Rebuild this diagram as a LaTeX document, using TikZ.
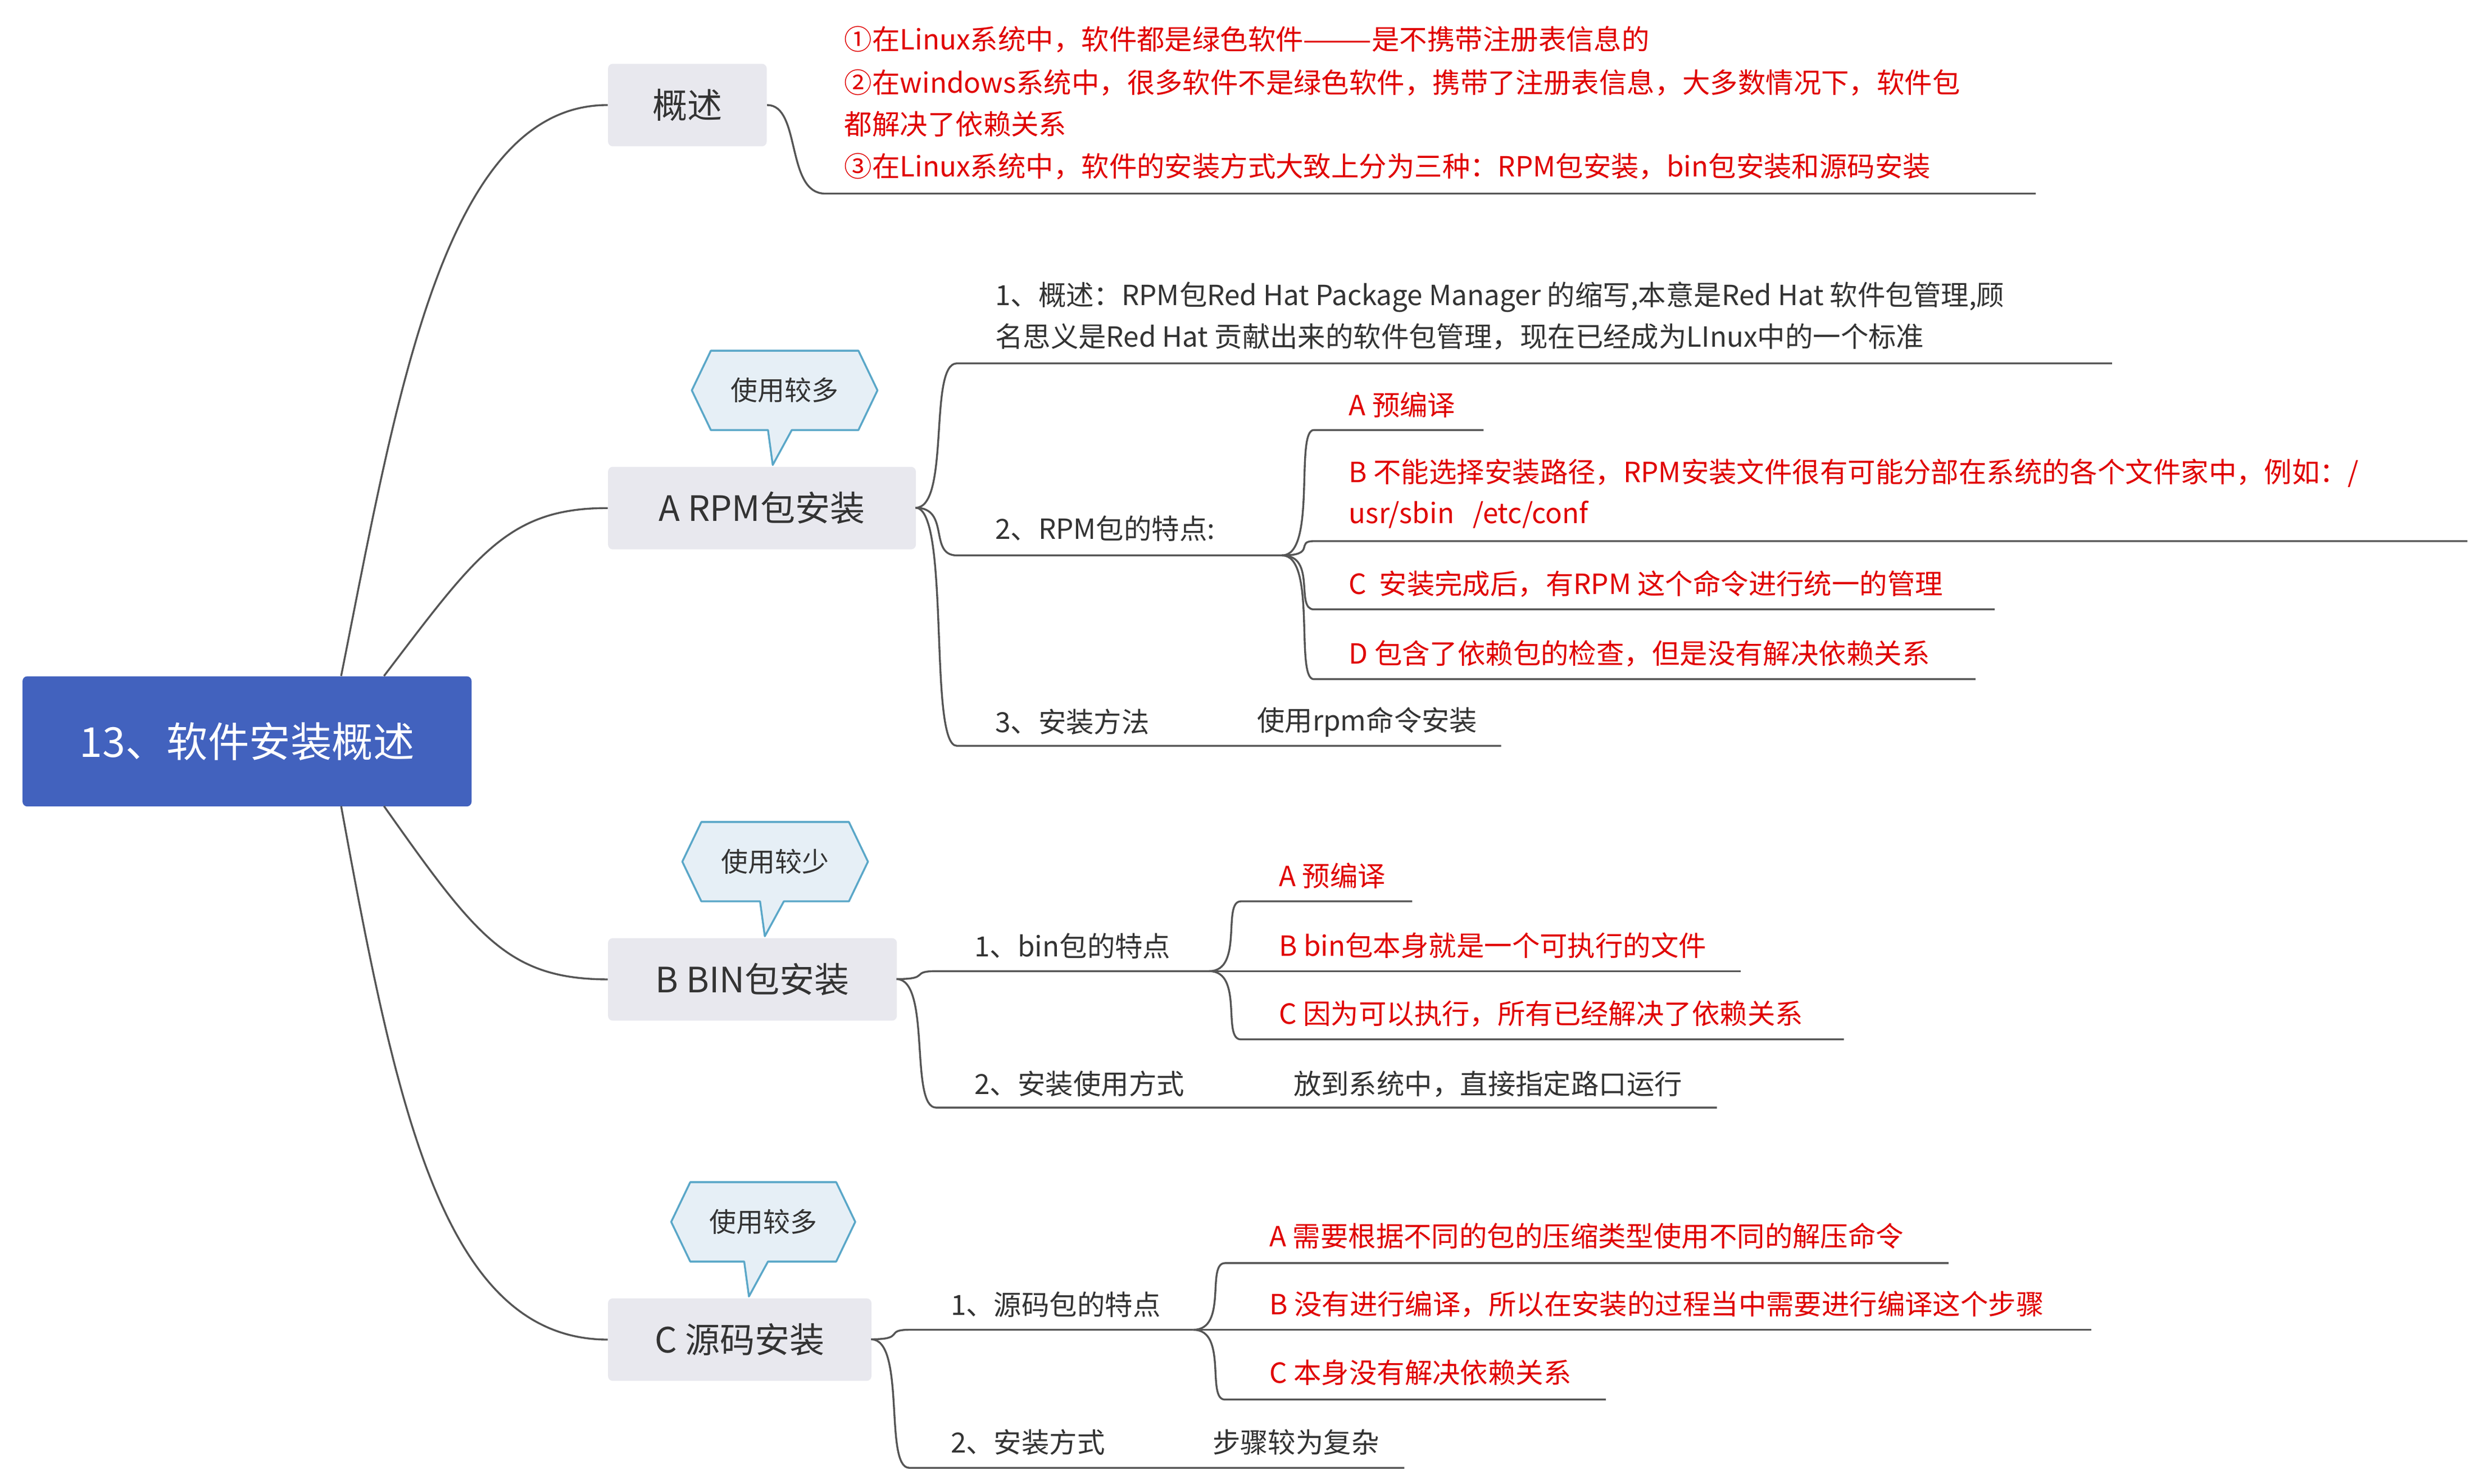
\documentclass[tikz,border=0pt]{standalone}
\usepackage{fontspec}
\setmainfont{Noto Sans CJK SC}
\usetikzlibrary{calc}
\definecolor{rootblue}{HTML}{4262BE}
\definecolor{boxgray}{HTML}{E8E8EE}
\definecolor{lin}{HTML}{555555}
\definecolor{redt}{HTML}{E00000}
\definecolor{txt}{HTML}{333333}
\definecolor{cfill}{HTML}{E6EFF6}
\definecolor{cline}{HTML}{5AA7C8}
\tikzset{
 rootbox/.style={fill=rootblue,rounded corners=3pt,text=white,font=\fontsize{26}{30}\selectfont,inner sep=0,minimum height=82pt,minimum width=283pt,anchor=north west},
 branch/.style={fill=boxgray,rounded corners=3pt,text=txt,font=\fontsize{22}{26}\selectfont,inner sep=0,minimum height=52pt,anchor=north west},
 leaf/.style={anchor=west,text=txt,font=\fontsize{17.5}{26}\selectfont,inner sep=0,align=left},
 rleaf/.style={leaf,text=redt},
 conn/.style={draw=lin,line width=1.2pt},
 cbox/.style={fill=cfill,draw=cline,line width=1.2pt,line join=round},
 ctext/.style={text=txt,font=\fontsize{17}{20}\selectfont,inner sep=0}
}
\newcommand{\mycallout}[7]{%
 \draw[cbox] (#1,{(#2+#4)/2}) -- (#1+12,#2) -- (#3-12,#2) -- (#3,{(#2+#4)/2}) -- (#3-12,#4) -- (#5+12,#4) -- (#5,#6) -- (#5-3,#4) -- (#1+12,#4) -- cycle;
 \node[ctext] (#7) at ({(#1+#3)/2},{(#2+#4)/2}) {使用较#7};}
\newcommand{\branchline}[5]{% parent x,y ; target x,y ; end x
 \draw[conn] (#1,#2) .. controls (#1+22,#2) and (#1+8,#4) .. (#3,#4) -- (#5,#4);}
\begin{document}
\begin{tikzpicture}[x=1pt,y=-1pt]
\useasboundingbox (0,0) rectangle (1568,935);
\fill[white] (0,0) rectangle (1568,935);
% root
\node[rootbox] (root) at (14,426) {13、软件安装概述};
\node[branch,minimum width=100pt] (gs) at (383,40) {概述};
\node[branch,minimum width=194pt] (rpm) at (383,294) {A RPM包安装};
\node[branch,minimum width=182pt] (bin) at (383,591) {B BIN包安装};
\node[branch,minimum width=166pt] (src) at (383,818) {C 源码安装};
\draw[conn] (215,426) .. controls (250,250) and (280,66) .. (gs.west);
\draw[conn] (242,426) .. controls (300,350) and (320,320) .. (rpm.west);
\draw[conn] (242,508) .. controls (300,590) and (320,617) .. (bin.west);
\draw[conn] (215,508) .. controls (250,700) and (280,844) .. (src.west);
% callouts
\mycallout{436}{221}{553}{271}{487}{293}{多}
\mycallout{430}{518}{547}{568}{482}{590}{少}
\begin{scope}
\draw[cbox] (423,770) -- (435,745) -- (527,745) -- (539,770) -- (527,795) -- (484,795) -- (472,817) -- (469,795) -- (435,795) -- cycle;
\node[ctext] (c3) at (481,770) {使用较多};
\end{scope}
% 概述 children
\draw[conn] (gs.east) .. controls (505,66) and (495,122) .. (520,122) -- (1283,122);
\node[rleaf] (g1) at (532,25) {①在Linux系统中，软件都是绿色软件———是不携带注册表信息的};
\node[rleaf] (g2) at (532,65) {②在windows系统中，很多软件不是绿色软件，携带了注册表信息，大多数情况下，软件包\\都解决了依赖关系};
\node[rleaf] (g3) at (532,105) {③在Linux系统中，软件的安装方式大致上分为三种：RPM包安装，bin包安装和源码安装};
% RPM
\branchline{577}{320}{603}{229}{1331}
\branchline{577}{320}{603}{350}{808}
\branchline{577}{320}{603}{470}{946}
\node[leaf] (r1) at (627,199) {1、概述：RPM包Red Hat Package Manager 的缩写,本意是Red Hat 软件包管理,顾\\名思义是Red Hat 贡献出来的软件包管理，现在已经成为LInux中的一个标准};
\node[leaf] (r2) at (627,333) {2、RPM包的特点:};
\node[leaf] (r3) at (627,455) {3、安装方法};
\node[leaf] (r3b) at (792,455) {使用rpm命令安装};
\branchline{808}{350}{828}{271}{935}
\branchline{808}{350}{828}{341}{1555}
\branchline{808}{350}{828}{384}{1257}
\branchline{808}{350}{828}{428}{1245}
\node[rleaf] (ra) at (850,255) {A 预编译};
\node[rleaf] (rb) at (850,311) {B 不能选择安装路径，RPM安装文件很有可能分部在系统的各个文件家中，例如：/\\usr/sbin\ \ \ /etc/conf};
\node[rleaf] (rc) at (850,368) {C\ \ 安装完成后，有RPM 这个命令进行统一的管理};
\node[rleaf] (rd) at (850,412) {D 包含了依赖包的检查，但是没有解决依赖关系};
% BIN
\branchline{565}{617}{590}{612}{762}
\branchline{565}{617}{590}{698}{1082}
\node[leaf] (b1) at (614,596) {1、bin包的特点};
\node[leaf] (b2) at (614,683) {2、安装使用方式};
\node[leaf] (b2b) at (815,683) {放到系统中，直接指定路口运行};
\branchline{762}{612}{782}{568}{890}
\branchline{762}{612}{782}{612}{1097}
\branchline{762}{612}{782}{655}{1162}
\node[rleaf] (ba) at (806,552) {A 预编译};
\node[rleaf] (bb) at (806,596) {B bin包本身就是一个可执行的文件};
\node[rleaf] (bc) at (806,639) {C 因为可以执行，所有已经解决了依赖关系};
% SRC
\branchline{549}{844}{573}{838}{752}
\branchline{549}{844}{573}{925}{885}
\node[leaf] (s1) at (599,822) {1、源码包的特点};
\node[leaf] (s2) at (599,909) {2、安装方式};
\node[leaf] (s2b) at (764,909) {步骤较为复杂};
\branchline{752}{838}{772}{796}{1228}
\branchline{752}{838}{772}{838}{1318}
\branchline{752}{838}{772}{882}{1012}
\node[rleaf] (sa) at (800,779) {A 需要根据不同的包的压缩类型使用不同的解压命令};
\node[rleaf] (sb) at (800,822) {B 没有进行编译，所以在安装的过程当中需要进行编译这个步骤};
\node[rleaf] (sc) at (800,865) {C 本身没有解决依赖关系};
\end{tikzpicture}
\end{document}
